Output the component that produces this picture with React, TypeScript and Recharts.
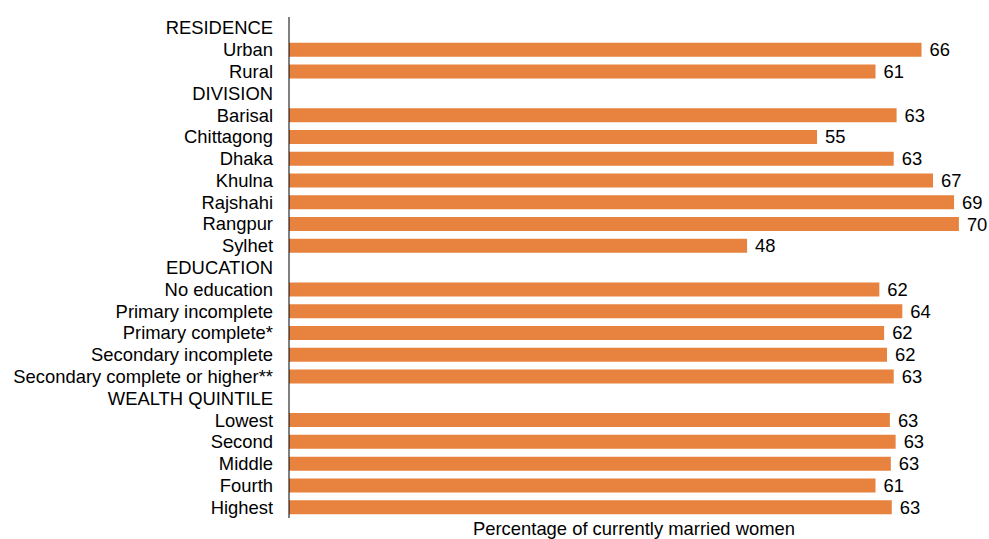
import { BarChart, Bar, XAxis, YAxis, LabelList } from 'recharts';

// rows top to bottom; null value = section header (no bar)
const categories = [
  'RESIDENCE', 'Urban', 'Rural',
  'DIVISION', 'Barisal', 'Chittagong', 'Dhaka', 'Khulna', 'Rajshahi', 'Rangpur', 'Sylhet',
  'EDUCATION', 'No education', 'Primary incomplete', 'Primary complete*', 'Secondary incomplete',
  'Secondary complete or higher**',
  'WEALTH QUINTILE', 'Lowest', 'Second', 'Middle', 'Fourth', 'Highest',
];

// bar lengths
const values: (number | null)[] = [
  null, 66.0, 61.2,
  null, 63.4, 55.1, 63.1, 67.2, 69.4, 69.9, 47.8,
  null, 61.6, 64.0, 62.1, 62.4, 63.1,
  null, 62.7, 63.3, 62.8, 61.2, 62.9,
];

// printed value labels
const labels: (string | null)[] = [
  null, '66', '61',
  null, '63', '55', '63', '67', '69', '70', '48',
  null, '62', '64', '62', '62', '63',
  null, '63', '63', '63', '61', '63',
];

const axisTitle = 'Percentage of currently married women';

const data = categories.map((name, i) => ({ name, value: values[i], label: labels[i] ?? '' }));

const FONT = 'Liberation Sans, Arial, sans-serif';
const BAR_COLOR = '#E7823F';

export default function App() {
  return (
    <div style={{ position: 'absolute', left: 0, top: 0 }}>
      <style>{'body{margin:0}'}</style>
      <BarChart
        width={989}
        height={539}
        data={data}
        layout="vertical"
        margin={{ top: 17, right: 10, bottom: 0, left: 0 }}
        barSize={14}
      >
        <XAxis
          type="number"
          domain={[0, 72]}
          axisLine={false}
          tickLine={false}
          tick={false}
          height={21}
          label={{ value: axisTitle, position: 'center', fill: '#000', fontSize: 18.4, fontFamily: FONT }}
        />
        <YAxis
          type="category"
          dataKey="name"
          width={289}
          interval={0}
          tickLine={false}
          tickMargin={10}
          axisLine={{ stroke: '#000', strokeWidth: 1 }}
          tick={{ fill: '#000', fontSize: 18.4, fontFamily: FONT }}
        />
        <Bar dataKey="value" fill={BAR_COLOR} isAnimationActive={false}>
          <LabelList
            dataKey="label"
            position="right"
            offset={8}
            fill="#000"
            fontSize={18.4}
            fontFamily={FONT}
          />
        </Bar>
      </BarChart>
    </div>
  );
}
